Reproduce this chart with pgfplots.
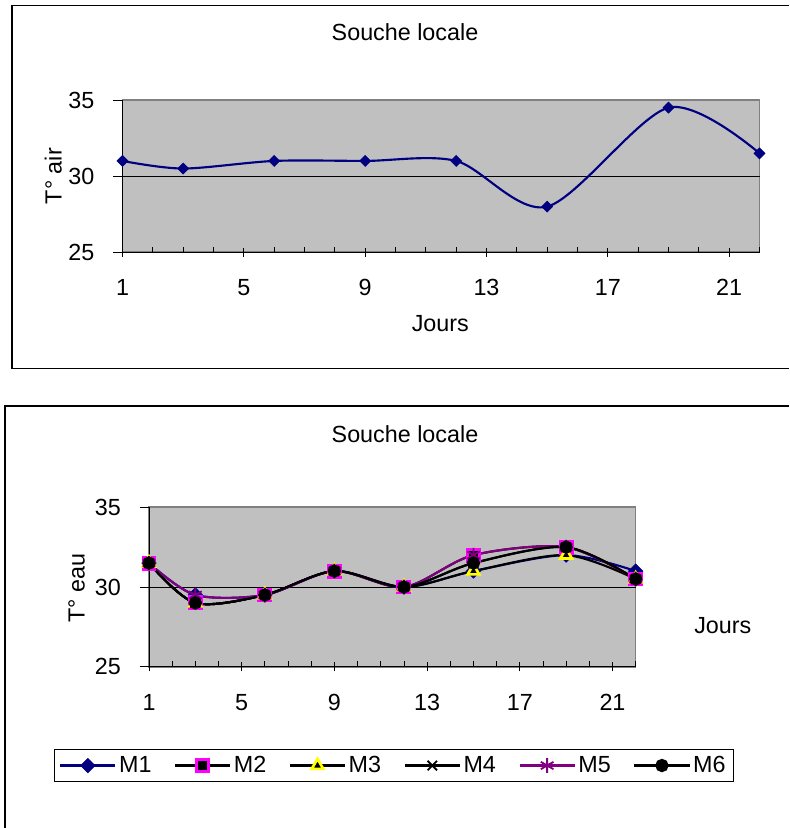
\documentclass[border=0pt]{standalone}
\usepackage{fontspec}
\setmainfont{Liberation Sans}
\usepackage{pgfplots}
\usepackage{pgfplotstable}
\pgfplotsset{compat=1.18}
\definecolor{plotgray}{HTML}{C0C0C0}
\definecolor{bordergray}{HTML}{808080}
\definecolor{navyc}{HTML}{000080}
\definecolor{purplec}{HTML}{800080}
\definecolor{magentac}{HTML}{FF00FF}
\definecolor{yellowc}{HTML}{FFFF00}

\pgfplotstableread{
day M1   M2   M3   M4   M5   M6
1   31.5 31.5 31.5 31.5 31.5 31.5
3   29.5 29   29   29   29.5 29
6   29.5 29.5 29.5 29.5 29.5 29.5
9   31   31   31   31   31   31
12  30   30   30   30   30   30
15  31   32   31   31.5 32   31.5
19  32   32.5 32   32.5 32.5 32.5
22  31   30.5 30.5 30.5 30.5 30.5
}\eau

\pgfplotstableread{
day air
1   31
3   30.5
6   31
9   31
12  31
15  28
19  34.5
22  31.5
}\air

\newcommand{\chartfont}{\fontsize{17.5}{21}\selectfont}

\pgfplotsset{
  excelax/.style={
    scale only axis, clip=false,
    xmin=1, xmax=22, ymin=25, ymax=35,
    axis x line*=bottom, axis y line*=left,
    axis line style={-, black, line width=0.75pt},
    axis background/.style={fill=plotgray, draw=bordergray, line width=1.2pt},
    xtick={1,5,9,13,17,21},
    ytick={25,30,35},
    xtick align=center, ytick align=outside,
    major tick length=7pt,
    tick style={black, line width=0.6pt},
    extra x ticks={2,3,4,6,7,8,10,11,12,14,15,16,18,19,20,22},
    extra x tick labels={},
    extra x tick style={xtick align=inside, major tick length=4pt},
    /pgf/number format/assume math mode=true,
    tick label style={font=\chartfont},
    label style={font=\chartfont},
    title style={font=\chartfont},
    xticklabel style={anchor=base, inner sep=0pt, yshift=-29pt},
    yticklabel style={anchor=east, inner sep=0pt, xshift=-14pt},
  }
}

\begin{document}
\begin{tikzpicture}[x=0.75pt, y=0.75pt, font=\chartfont]
\path[use as bounding box] (0,0) rectangle (789,828);

% frames
\draw[line width=0.9pt] (789,822.3) -- (12,822.3) -- (12,459.7) -- (789,459.7);
\draw[line width=0.9pt] (789,422) -- (5,422) -- (5,0);

% ---------- top chart ----------
\begin{axis}[excelax,
  at={(91.875pt,431.775pt)}, anchor=south west,
  width=477.75pt, height=114.2pt,
  title={Souche locale},
  title style={at={(axis description cs:0.4435,1.395)}, anchor=center},
  xlabel={Jours},
  xlabel style={at={(axis description cs:0.499,-0.471)}, anchor=center},
  ylabel={T° air},
  ylabel style={at={(axis description cs:-0.1086,0.50)}, anchor=center},
]
\draw[black, line width=0.6pt] (axis cs:1,30) -- (axis cs:22,30);
\addplot[navyc, line width=1.6pt, smooth,
  mark=square*, mark size=2.9pt,
  mark options={rotate=45, fill=navyc, draw=navyc, line width=0.5pt}]
  table[x=day, y=air] {\air};
\end{axis}

% ---------- bottom chart ----------
\begin{axis}[excelax,
  at={(111.75pt,120.975pt)}, anchor=south west,
  width=365pt, height=119.55pt,
  title={Souche locale},
  title style={at={(axis description cs:0.526,1.41)}, anchor=center},
  xlabel={Jours},
  xlabel style={at={(axis description cs:1.179,0.255)}, anchor=center},
  ylabel={T° eau},
  ylabel style={at={(axis description cs:-0.1486,0.494)}, anchor=center},
  legend columns=6,
  legend style={at={(axis description cs:0.503,-0.620)}, anchor=center,
    draw=black, line width=0.75pt, font=\chartfont,
    inner xsep=4pt, inner ysep=2pt,
    nodes={inner xsep=2pt, inner ysep=3pt},
    /tikz/every even column/.append style={column sep=15pt}},
  legend image code/.code={%
    \draw[mark repeat=2, mark phase=2, #1]
      plot coordinates {(0pt,0pt) (20.6pt,0pt) (41.2pt,0pt)};},
]
\draw[black, line width=0.6pt] (axis cs:1,30) -- (axis cs:22,30);
\addplot[navyc, line width=1.6pt, smooth,
  mark=square*, mark size=3.8pt,
  mark options={rotate=45, fill=navyc, draw=navyc, line width=0.5pt}]
  table[x=day, y=M1] {\eau};
\addlegendentry{M1}
\addplot[black, line width=1.6pt, smooth,
  mark=square*, mark size=4.4pt,
  mark options={fill=black, draw=magentac, line width=2.4pt}]
  table[x=day, y=M2] {\eau};
\addlegendentry{M2}
\addplot[black, line width=1.6pt, smooth,
  mark=triangle*, mark size=5pt,
  mark options={fill=black, draw=yellowc, line width=2pt}]
  table[x=day, y=M3] {\eau};
\addlegendentry{M3}
\addplot[black, line width=1.6pt, smooth,
  mark=x, mark size=5pt,
  mark options={draw=black, line width=1.4pt}]
  table[x=day, y=M4] {\eau};
\addlegendentry{M4}
\addplot[purplec, line width=1.6pt, smooth,
  mark=asterisk, mark size=5.5pt,
  mark options={draw=purplec, line width=1.4pt}]
  table[x=day, y=M5] {\eau};
\addlegendentry{M5}
\addplot[black, line width=1.6pt, smooth,
  mark=*, mark size=4.2pt,
  mark options={fill=black, draw=black}]
  table[x=day, y=M6] {\eau};
\addlegendentry{M6}
\end{axis}
\end{tikzpicture}
\end{document}
